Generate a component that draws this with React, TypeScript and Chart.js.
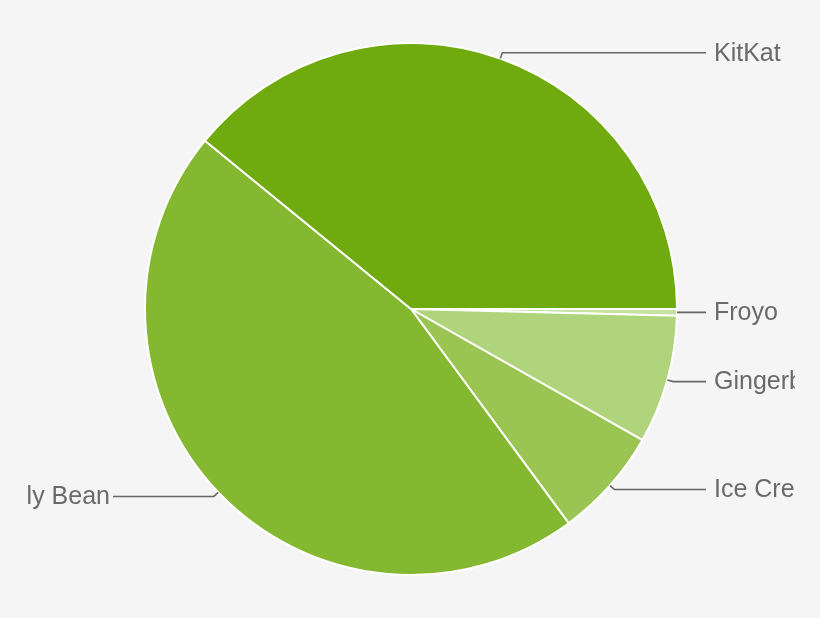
import { useEffect, useRef } from "react";
import { Chart, registerables } from "chart.js";

Chart.register(...registerables);

const categories = ["Froyo", "Gingerbread", "Ice Cream Sandwich", "Jelly Bean", "KitKat"];
const shares = [0.4, 7.8, 6.7, 46.0, 39.1];
const sliceColors = ["#c6e1a0", "#afd47b", "#9bc552", "#84b831", "#6fab0e"];

const leaderLabels = {
  id: "leaderLabels",
  afterDraw(chart: any) {
    const ctx = chart.ctx as CanvasRenderingContext2D;
    const meta = chart.getDatasetMeta(0);
    ctx.save();
    ctx.beginPath();
    ctx.rect(26, 0, 795 - 26, chart.height);
    ctx.clip();
    ctx.strokeStyle = "#666666";
    ctx.lineWidth = 1.6;
    ctx.fillStyle = "#6a6a6a";
    ctx.font = "25px 'Liberation Sans', Arial, sans-serif";
    ctx.textBaseline = "middle";
    meta.data.forEach((arc: any, i: number) => {
      const p = arc.getProps(["x", "y", "startAngle", "endAngle", "outerRadius"], true);
      const mid = (p.startAngle + p.endAngle) / 2;
      const r = p.outerRadius;
      const ex = p.x + Math.cos(mid) * r;
      const ey = p.y + Math.sin(mid) * r;
      const bx = p.x + Math.cos(mid) * (r + 6);
      const by = p.y + Math.sin(mid) * (r + 6);
      const right = Math.cos(mid) >= 0;
      const lineEnd = right ? p.x + r + 29 : p.x - r - 32;
      ctx.beginPath();
      ctx.moveTo(ex, ey);
      ctx.lineTo(bx, by);
      ctx.lineTo(lineEnd, by);
      ctx.stroke();
      ctx.textAlign = right ? "left" : "right";
      ctx.fillText(categories[i], right ? lineEnd + 8 : lineEnd - 3, by + 1);
    });
    ctx.restore();
  },
};

export default function App() {
  const ref = useRef<HTMLCanvasElement | null>(null);
  useEffect(() => {
    if (!ref.current) return;
    const chart = new Chart(ref.current, {
      type: "pie",
      data: {
        labels: categories,
        datasets: [
          {
            data: shares,
            backgroundColor: sliceColors,
            borderColor: "#ffffff",
            borderWidth: 2,
          },
        ],
      },
      options: {
        animation: false,
        responsive: false,
        devicePixelRatio: 1,
        rotation: 90,
        events: [],
        layout: { padding: { left: 144, right: 142, top: 42, bottom: 42 } },
        plugins: {
          legend: { display: false },
          tooltip: { enabled: false },
        },
      },
      plugins: [leaderLabels],
    });
    return () => chart.destroy();
  }, []);
  return (
    <div style={{ position: "fixed", left: 0, top: 0, width: 820, height: 618, background: "#f5f5f5" }}>
      <canvas ref={ref} width={820} height={618} style={{ display: "block" }} />
    </div>
  );
}
